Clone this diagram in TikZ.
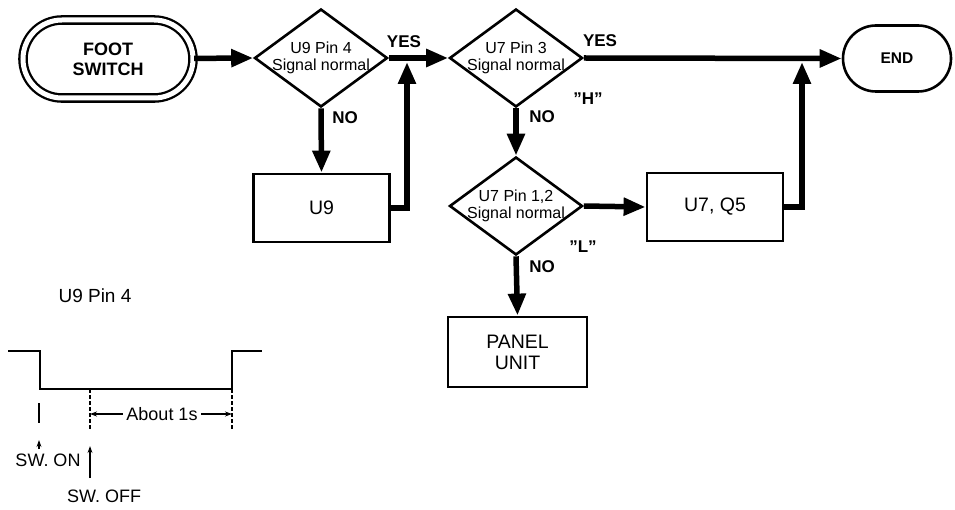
\documentclass[tikz,border=0pt]{standalone}
\usepackage{fontspec}
\setmainfont{Liberation Sans}
\usetikzlibrary{shapes.geometric, arrows.meta, positioning}

\begin{document}
\begin{tikzpicture}[
					% Picture Styling
					x=1pt, y=-1pt,
					>=Stealth,
					decision/.style={draw, diamond, line width=2.6pt, minimum width=133pt, minimum height=98pt, inner sep=0pt},
					dtext/.style={align=center, font=\fontsize{16}{16.5}\selectfont},
					block/.style={draw, rectangle, line width=2.8pt, minimum width=136pt, minimum height=68pt, align=center, font=\fontsize{19.5}{21}\selectfont},
					terminal/.style={draw, rectangle, line width=2.6pt, align=center, font=\bfseries\fontsize{18}{20}\selectfont},
					flow/.style={-{Triangle[length=22pt, width=17pt]}, line width=5.5pt},
					tag/.style={font=\bfseries\fontsize{17}{18}\selectfont},
					wtext/.style={font=\fontsize{18}{19}\selectfont},
					wave/.style={line width=1.6pt},
					guide/.style={line width=1.1pt, dashed, dash pattern=on 4pt off 2pt},
					pointer/.style={-{Stealth[length=7pt, width=5pt]}, line width=1.1pt}
				]
				\useasboundingbox (0,0) rectangle (955,510);
				% Inicio y fin
				\node[terminal, double, double distance=5pt, line width=2.3pt, minimum width=170pt, minimum height=78pt, rounded corners=39pt] (foot) at (108,59) {FOOT\\SWITCH};
				\node[terminal, minimum width=108pt, minimum height=66pt, rounded corners=33pt, font=\bfseries\fontsize{15.5}{18}\selectfont] (fin) at (897,58.5) {END};
				% Decisiones
				\node[decision, label={[dtext]center:U9 Pin 4\\Signal normal}] (pin4) at (321,58) {};
				\node[decision, label={[dtext]center:U7 Pin 3\\Signal normal}] (pin3) at (516,58) {};
				\node[decision, label={[dtext]center:U7 Pin 1,2\\Signal normal}] (pin12) at (516,206) {};
				% Bloques
				\node[block] (u9) at (321.5,208) {U9};
				\node[block] (u7q5) at (715,207) {U7, Q5};
				\node[block, minimum width=139pt, minimum height=70pt] (panel) at (517.5,352) {PANEL\\UNIT};
				% Uniones
				\coordinate (union1) at (407,62);
				\coordinate (union2) at (802,62);
				% Flujos
				\draw[flow] (foot) -- (pin4.west);
				\draw[flow] (pin4.east) -- (pin3.west);
				\draw[flow] (pin3.east) -- (fin.west);
				\draw[flow] (pin4.south) -- (u9.north);
				\draw[flow] (u9.east) -| (union1);
				\draw[flow] (pin3.south) -- (pin12.north);
				\draw[flow] (pin12.east) -- (u7q5.west);
				\draw[flow] (u7q5.east) -| (union2);
				\draw[flow] (pin12.south) -- (panel.north);
				% Etiquetas
				\node[tag] (yes1) at (404,42) {YES};
				\node[tag] (yes2) at (600,41) {YES};
				\node[tag] (no1) at (345,118) {NO};
				\node[tag] (no2) at (542,117) {NO};
				\node[tag] (no3) at (542,267) {NO};
				\node[tag] (high) at (588,99) {''H''};
				\node[tag] (low) at (583,247) {''L''};
				% Forma de onda
				\node[wtext, font=\fontsize{19}{20}\selectfont] (titulo) at (95,296) {U9 Pin 4};
				\coordinate (on) at (39,389);
				\coordinate (off) at (90,389);
				\coordinate (back) at (232,389);
				\draw[wave] (8,351) -- (40,351) -- (40,389) -- (232,389) -- (232,351) -- (262,351);
				\draw[line width=1.1pt] ([yshift=-14pt]on) -- ++(0,20);
				\draw[guide] (off) -- ++(0,41);
				\draw[guide] (back) -- ++(0,41);
				\node[wtext] (swon) at (48,460) {SW. ON};
				\node[wtext] (swoff) at (104,496) {SW. OFF};
				\node[wtext] (about) at (162,414) {About 1s};
				\draw[pointer] (swon.north -| on) ++(0,-1) -- ++(0,-9);
				\draw[pointer] (swoff.north -| off) ++(0,-8) -- ++(0,-32);
				\draw[pointer] (about.west) -- (about.west -| off);
				\draw[pointer] (about.east) -- (about.east -| back);
			\end{tikzpicture}
\end{document}
